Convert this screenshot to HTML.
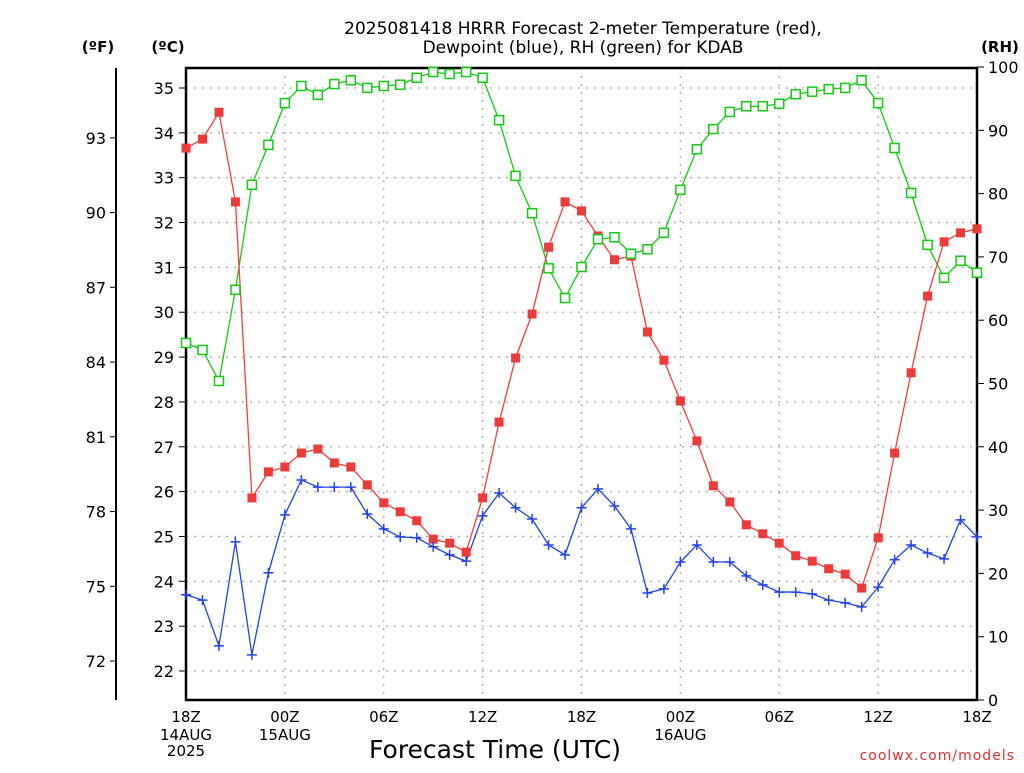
<!DOCTYPE html>
<html><head><meta charset="utf-8"><style>
body{margin:0;background:#fff;width:1024px;height:768px;overflow:hidden}
svg text{font-family:"DejaVu Sans","Liberation Sans",sans-serif}
</style></head><body>
<svg id="chart" width="1024" height="768" viewBox="0 0 1024 768" xmlns="http://www.w3.org/2000/svg">
<g id="grid"></g>
<g id="axes"></g>
<g id="series"></g>
<text x="583" y="34" font-size="17" text-anchor="middle">2025081418 HRRR Forecast 2-meter Temperature (red),</text>
<text x="583" y="53" font-size="17" text-anchor="middle">Dewpoint (blue), RH (green) for KDAB</text>
<text x="98" y="52" font-size="15" font-weight="bold" text-anchor="middle">(ºF)</text>
<text x="168" y="52" font-size="15" font-weight="bold" text-anchor="middle">(ºC)</text>
<text x="1000" y="52" font-size="15" font-weight="bold" text-anchor="middle">(RH)</text>
<text x="495" y="758" font-size="25" text-anchor="middle">Forecast Time (UTC)</text>
<text x="1015" y="760" font-size="14" fill="#e03030" text-anchor="end" letter-spacing="1">coolwx.com/models</text>
</svg>
<script>
const tempC=[33.66,33.86,34.46,32.46,25.86,26.44,26.55,26.86,26.95,26.64,26.55,26.15,25.75,25.55,25.35,24.94,24.85,24.65,25.86,27.55,28.98,29.96,31.45,32.46,32.26,31.70,31.17,31.25,29.56,28.93,28.02,27.13,26.13,25.77,25.26,25.06,24.85,24.57,24.45,24.28,24.16,23.85,24.97,26.86,28.65,30.36,31.57,31.77,31.86];
const dewC=[23.70,23.58,22.56,24.88,22.36,24.19,25.48,26.26,26.10,26.10,26.10,25.50,25.17,24.99,24.97,24.77,24.59,24.45,25.46,25.97,25.64,25.39,24.81,24.59,25.64,26.06,25.68,25.17,23.74,23.83,24.43,24.81,24.43,24.43,24.12,23.92,23.76,23.76,23.72,23.58,23.52,23.43,23.87,24.48,24.81,24.63,24.50,25.37,24.99];
const rh=[56.4,55.3,50.4,64.8,81.4,87.7,94.3,97.0,95.6,97.3,97.9,96.7,97.0,97.2,98.3,99.2,98.9,99.2,98.3,91.6,82.8,76.9,68.2,63.5,68.4,72.8,73.1,70.5,71.2,73.8,80.6,87.0,90.2,92.9,93.8,93.8,94.2,95.7,96.1,96.5,96.7,97.9,94.3,87.2,80.1,71.9,66.7,69.4,67.5];
const cTicks=[22,23,24,25,26,27,28,29,30,31,32,33,34,35];
const fTicks=[72,75,78,81,84,87,90,93];
const rhTicks=[0,10,20,30,40,50,60,70,80,90,100];
const xTickHours=[0,6,12,18,24,30,36,42,48];
const xTickLabels=["18Z","00Z","06Z","12Z","18Z","00Z","06Z","12Z","18Z"];

const L=186,R=977,T=68,B=700;
const xs=h=>L+(R-L)*h/48;
const yc=c=>88+(35-c)*(671-88)/13;
const yf=f=>yc((f-32)*5/9);
const yr=v=>B-(B-T+1)*v/100;
const NS="http://www.w3.org/2000/svg";
function mk(parent,tag,attrs,txt){const e=document.createElementNS(NS,tag);for(const k in attrs)e.setAttribute(k,attrs[k]);if(txt!==undefined)e.textContent=txt;document.getElementById(parent).appendChild(e);return e;}

cTicks.forEach(c=>{
 const g=mk('grid','line',{x1:L,x2:R,y1:yc(c),y2:yc(c),stroke:'#aaa','stroke-width':1.3,'stroke-dasharray':'2 6'});
 
 
 const t=mk('axes','line',{x1:L-7,x2:L,y1:yc(c),y2:yc(c),stroke:'#000'});
 
 
 const l=mk('axes','text',{x:L-12,y:yc(c)+6,'font-size':16,'text-anchor':'end'},String(c));
 
 
});
xTickHours.forEach((h,i)=>{
 if(h>0&&h<48){const g=mk('grid','line',{x1:xs(h),x2:xs(h),y1:T,y2:B,stroke:'#aaa','stroke-width':1.3,'stroke-dasharray':'2 6'});
 
 }
 const l=mk('axes','text',{x:xs(h),y:722,'font-size':15,'text-anchor':'middle'},xTickLabels[i]);
 
 
});
[["14AUG",0],["2025",0],["15AUG",6],["16AUG",30]].forEach((d,i)=>{
 const l=mk('axes','text',{x:xs(d[1]),y:(i==1?756:740),'font-size':15,'text-anchor':'middle'},d[0]);
 
 
});
fTicks.forEach(f=>{
 const t=mk('axes','line',{x1:110,x2:116,y1:yf(f),y2:yf(f),stroke:'#000'});
 
 
 const l=mk('axes','text',{x:106,y:yf(f)+6,'font-size':16,'text-anchor':'end'},String(f));
 
 
});
rhTicks.forEach(v=>{
 const t=mk('axes','line',{x1:R,x2:R+7,y1:yr(v),y2:yr(v),stroke:'#000'});
 
 
 const l=mk('axes','text',{x:R+11,y:yr(v)+6,'font-size':16},String(v));
 
 
});
const fa=mk('axes','line',{x1:116,x2:116,y1:T,y2:B,stroke:'#000','stroke-width':2});


const fr=mk('axes','rect',{x:L,y:T,width:R-L,height:B-T,fill:'none',stroke:'#000','stroke-width':2.5});



function line(vals,yfn,color,name){
 const p=mk('series','polyline',{points:vals.map((v,i)=>xs(i)+','+yfn(v)).join(' '),fill:'none',stroke:color,'stroke-width':1.3});
 
 
}
line(rh,yr,'#11cc11','rh');
line(tempC,yc,'#f04040','temperature');
line(dewC,yc,'#2244ee','dewpoint');
tempC.forEach((v,i)=>{const m=mk('series','rect',{x:xs(i)-4.5,y:yc(v)-4.5,width:9,height:9,fill:'#f03a3a'});
 
 });
rh.forEach((v,i)=>{const m=mk('series','rect',{x:xs(i)-4.5,y:yr(v)-4.5,width:9,height:9,fill:'#fff',stroke:'#11cc11','stroke-width':1.5});
 
 });
dewC.forEach((v,i)=>{const x=xs(i),y=yc(v);const m=mk('series','path',{d:`M${x-5},${y}H${x+5}M${x},${y-5}V${y+5}`,stroke:'#2244ee','stroke-width':1.5});
 
 });
</script>
</body></html>
